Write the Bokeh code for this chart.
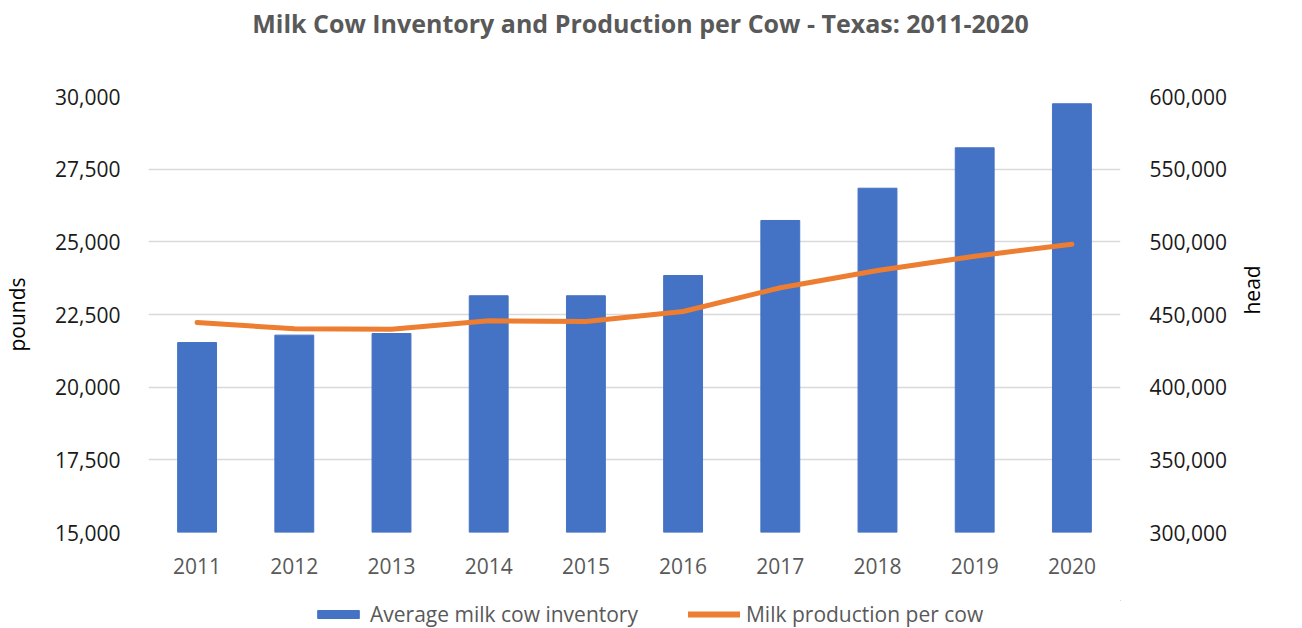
import math
from bokeh.plotting import figure
from bokeh.layouts import column
from bokeh.core.properties import value
from bokeh.models import (Range1d, LinearAxis, FixedTicker, NumeralTickFormatter,
                          Legend, LegendItem, FactorRange)
from bokeh.embed import file_html
from bokeh.resources import INLINE

years = ["2011", "2012", "2013", "2014", "2015", "2016", "2017", "2018", "2019", "2020"]
inventory_head = [430700, 435800, 436900, 462900, 462900, 476800, 514700, 536900, 564700, 595000]
production_lbs = [22225, 22008, 21995, 22283, 22259, 22603, 23419, 24014, 24506, 24919]
left_ticks = [15000, 17500, 20000, 22500, 25000, 27500, 30000]
right_ticks = [300000, 350000, 400000, 450000, 500000, 550000, 600000]
legend_labels = ["Average milk cow inventory", "Milk production per cow"]
title_text = "Milk Cow Inventory and Production per Cow - Texas: 2011-2020"
left_label = "pounds"
right_label = "head"

FONT = "Open Sans"
BAR_C = "#4472c4"
LINE_C = "#ed7d31"
W = 1286
H_HEAD = 44
H_MAIN = 556
H_LEG = 28
FRAME_W = 980


def bare(fig):
    fig.axis.visible = False
    fig.grid.visible = False
    fig.outline_line_color = None
    return fig


# ---- title strip (its frame is aligned with the chart's frame) ----
hd = bare(figure(width=W, height=H_HEAD, x_range=Range1d(0, FRAME_W), y_range=Range1d(0, H_HEAD),
                 output_backend="svg", toolbar_location=None,
                 min_border_left=0, min_border_right=0, min_border_top=0, min_border_bottom=0))
hd.text(x=[496], y=[H_HEAD / 2], text=[title_text], text_align="center", text_baseline="middle",
        text_font=value(FONT), text_font_size="25px", text_font_style="bold", text_color="#595959")

# ---- main chart ----
p = figure(width=W, height=H_MAIN, x_range=FactorRange(*years), y_range=Range1d(15000, 30000),
           output_backend="svg", toolbar_location=None,
           min_border_left=140, min_border_right=166, min_border_top=52, min_border_bottom=68)
p.extra_y_ranges = {"head": Range1d(300000, 600000)}

p.outline_line_color = None
p.xgrid.grid_line_color = None
p.ygrid.grid_line_color = "#d9d9d9"
p.ygrid.grid_line_width = 1.5
p.ygrid.ticker = FixedTicker(ticks=left_ticks)

p.vbar(x=years, top=inventory_head, bottom=300000, width=0.4, y_range_name="head",
       fill_color=BAR_C, line_color=BAR_C)
p.line(x=years, y=production_lbs, line_color=LINE_C, line_width=5, line_cap="round",
       line_join="round")

ax = p.yaxis[0]
ax.ticker = FixedTicker(ticks=left_ticks)
ax.formatter = NumeralTickFormatter(format="0,0")
ax.axis_label = left_label

rax = LinearAxis(y_range_name="head", ticker=FixedTicker(ticks=right_ticks),
                 formatter=NumeralTickFormatter(format="0,0"), axis_label=right_label)
p.add_layout(rax, "right")

for a in (ax, rax):
    a.axis_line_color = None
    a.major_tick_line_color = None
    a.minor_tick_line_color = None
    a.major_label_text_font = FONT
    a.major_label_text_font_size = "21px"
    a.major_label_text_color = "#1a1a1a"
    a.axis_label_text_font = FONT
    a.axis_label_text_font_size = "21px"
    a.axis_label_text_font_style = "normal"
    a.axis_label_text_color = "#000000"
ax.major_label_standoff = 22
ax.axis_label_standoff = 21
rax.major_label_standoff = 23
rax.axis_label_standoff = 22
rax.axis_label_orientation = math.pi / 2   # read bottom-to-top, like the left title

xa = p.xaxis[0]
xa.axis_line_color = None
xa.major_tick_line_color = None
xa.major_label_text_font = FONT
xa.major_label_text_font_size = "21px"
xa.major_label_text_color = "#595959"
xa.major_label_standoff = 19

# ---- legend strip ----
lg = bare(figure(width=W, height=H_LEG, x_range=Range1d(0, 1), y_range=Range1d(0, 1),
                 output_backend="svg", toolbar_location=None,
                 min_border_left=0, min_border_right=0, min_border_top=0, min_border_bottom=0))
# proxies kept outside the visible range; they only feed the legend swatches
r_bar = lg.vbar(x=[5], top=[5], bottom=[4], width=0.4, fill_color=BAR_C, line_color=BAR_C)
r_line = lg.line(x=[5, 6], y=[5, 5], line_color=LINE_C, line_width=6, line_cap="round")
legend = Legend(items=[LegendItem(label=legend_labels[0], renderers=[r_bar]),
                       LegendItem(label=legend_labels[1], renderers=[r_line])],
                orientation="horizontal", location=(164, 0),
                glyph_width=52, glyph_height=10, label_standoff=6, spacing=50,
                padding=0, margin=0, border_line_color=None, background_fill_alpha=0,
                label_text_font=FONT, label_text_font_size="21px", label_text_color="#595959")
lg.add_layout(legend)

layout = column(hd, p, lg, spacing=0)
open("out.html", "w").write(file_html(layout, INLINE))
